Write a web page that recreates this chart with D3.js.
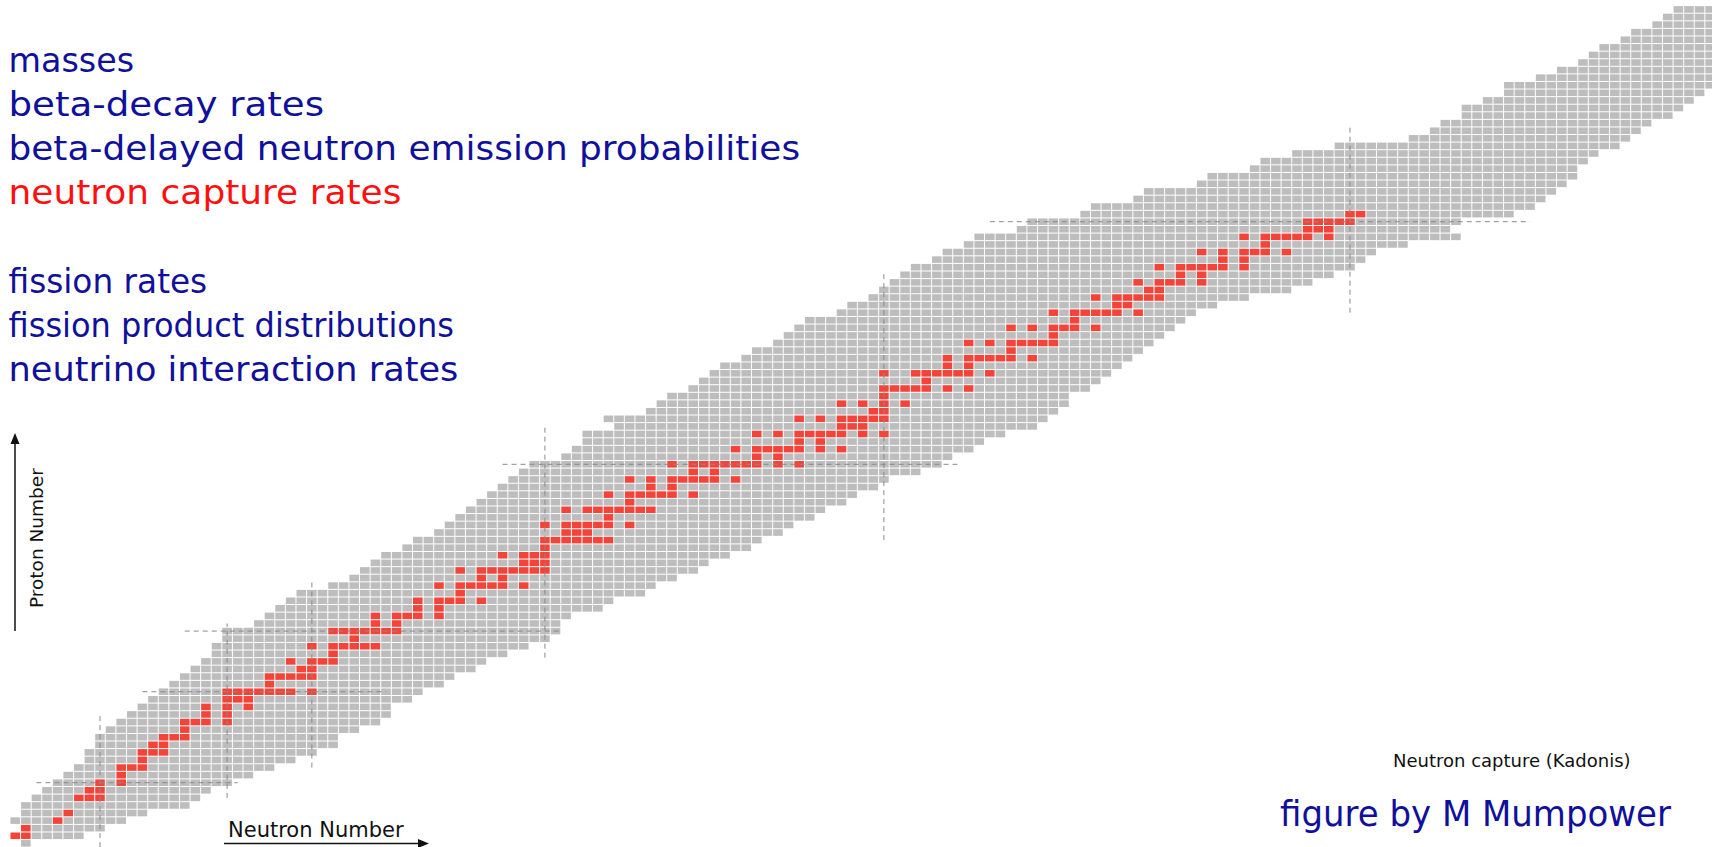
<!DOCTYPE html>
<html>
<head>
<meta charset="utf-8">
<script src="https://cdn.jsdelivr.net/npm/d3@7"></script>
<style>
  html, body { margin: 0; padding: 0; background: #ffffff; overflow: hidden; }
  svg { display: block; }
</style>
</head>
<body>
<svg id="chart" width="1712" height="847"></svg>
<script>
// ---- chart of nuclides: known isotopes per element (neutron number range) ----
const protonNumbers = d3.range(0, 111);
const neutronMin = [
  1, 0, 1, 0, 1, 1, 2, 3, 4, 5,          // Z 0-9
  6, 7, 7, 8, 8, 9, 10, 11, 12, 13,      // Z 10-19
  14, 15, 16, 17, 18, 19, 19, 20, 20, 23, // Z 20-29
  24, 25, 26, 27, 30, 32, 33, 34, 35, 37, // Z 30-39
  38, 40, 41, 42, 43, 44, 45, 46, 47, 48, // Z 40-49
  49, 52, 53, 54, 54, 57, 56, 60, 61, 62, // Z 50-59
  64, 65, 66, 67, 69, 70, 72, 73, 74, 75, // Z 60-69
  78, 79, 81, 82, 83, 84, 85, 87, 88, 90, // Z 70-79
  91, 95, 96, 101, 102, 106, 107, 112, 113, 117, // Z 80-89
  118, 121, 125, 132, 134, 135, 137, 137, 139, 141, // Z 90-99
  141, 144, 146, 148, 149, 150, 152, 153, 155, 156, // Z 100-109
  157                                     // Z 110
];
const neutronMax = [
  1, 6, 8, 10, 12, 16, 17, 18, 20, 22,
  24, 26, 28, 30, 30, 32, 34, 35, 35, 37,
  38, 40, 41, 43, 44, 46, 48, 50, 51, 51,
  52, 55, 56, 59, 60, 62, 64, 65, 67, 69,
  70, 72, 73, 75, 76, 78, 79, 81, 82, 85,
  87, 88, 90, 91, 93, 96, 97, 98, 99, 99,
  101, 102, 103, 104, 105, 106, 107, 108, 109, 110,
  111, 113, 116, 120, 122, 124, 126, 127, 128, 131,
  136, 135, 136, 141, 143, 144, 145, 146, 147, 147,
  148, 149, 151, 152, 153, 154, 156, 157, 158, 159,
  161, 161, 161, 161, 161, 161, 161, 161, 161, 161,
  161
];

// ---- neutron capture targets (Kadonis), as [Z, [N, ...]] ----
const captureTargets = [
  [1, [0, 1]], [2, [1]], [3, [4]], [4, [5]],
  [6, [6, 7, 8]], [7, [7, 8]], [8, [8, 10]], [9, [10]],
  [10, [10, 11, 12]], [11, [12]], [12, [12, 13, 14]], [13, [13, 14]],
  [14, [14, 15, 16]], [15, [16]], [16, [16, 17, 18, 20]], [17, [18, 20]],
  [18, [18, 20, 22]], [19, [20, 21, 22]], [20, [20, 21, 22, 23, 24, 25, 26, 28]],
  [21, [24]], [22, [24, 25, 26, 27, 28]], [23, [27, 28]], [24, [26, 28, 29, 30]],
  [25, [30]], [26, [28, 30, 31, 32, 33, 34]], [27, [32]],
  [28, [30, 31, 32, 33, 34, 35, 36]], [29, [34, 36]], [30, [34, 36, 37, 38, 40]],
  [31, [38, 40]], [32, [38, 40, 41, 42, 44]], [33, [42]],
  [34, [40, 42, 43, 44, 45, 46, 48]], [35, [44, 46]],
  [36, [42, 44, 45, 46, 47, 48, 49, 50]], [37, [48, 49, 50]], [38, [46, 48, 49, 50]],
  [39, [50]], [40, [50, 51, 52, 53, 54, 55, 56]], [41, [52, 53, 54]],
  [42, [50, 52, 53, 54, 55, 56, 58]], [43, [56]],
  [44, [52, 54, 55, 56, 57, 58, 59, 60]], [45, [58]],
  [46, [56, 58, 59, 60, 61, 62, 64]], [47, [60, 62]],
  [48, [58, 60, 62, 63, 64, 65, 66, 68]], [49, [64, 66]],
  [50, [62, 64, 65, 66, 67, 68, 69, 70, 72, 74]], [51, [70, 72]],
  [52, [68, 70, 71, 72, 73, 74, 76, 78]], [53, [74, 76]],
  [54, [70, 72, 74, 75, 76, 77, 78, 80, 82]], [55, [78, 79, 80]],
  [56, [74, 76, 78, 79, 80, 81, 82]], [57, [81, 82]], [58, [78, 80, 82, 84]],
  [59, [82]], [60, [82, 83, 84, 85, 86, 88, 90]], [61, [86]],
  [62, [82, 85, 86, 87, 88, 89, 90, 92]], [63, [88, 90]],
  [64, [88, 90, 91, 92, 93, 94, 96]], [65, [94]],
  [66, [90, 92, 94, 95, 96, 97, 98]], [67, [98]],
  [68, [94, 96, 98, 99, 100, 102]], [69, [100]],
  [70, [98, 100, 101, 102, 103, 104, 106]], [71, [104, 105]],
  [72, [102, 104, 105, 106, 107, 108]], [73, [107, 108]],
  [74, [106, 108, 109, 110, 112]], [75, [110, 112]],
  [76, [108, 110, 111, 112, 113, 114, 116]], [77, [114, 116]],
  [78, [112, 114, 116, 117, 118, 120]], [79, [118]],
  [80, [116, 118, 119, 120, 121, 122, 124]], [81, [122, 123, 124]],
  [82, [122, 123, 124, 125, 126]], [83, [126, 127]]
];

// ---- magic numbers and the extent of their guide lines ----
const magicNeutrons = [8, 20, 28, 50, 82, 126];
const magicNeutronSpan = [[-0.5, 17], [6, 29], [10, 34.5], [24.5, 55], [40, 75.5], [70, 94.6]];
const magicProtons = [8, 20, 28, 50, 82];
const magicProtonSpan = [[2, 21], [12, 35], [16, 51.5], [46, 89.3], [92, 143]];

// ---- quantities listed beside the chart ----
const inputLabels = [
  "masses",
  "beta-decay rates",
  "beta-delayed neutron emission probabilities",
  "neutron capture rates",
  "",
  "fission rates",
  "fission product distributions",
  "neutrino interaction rates"
];
const highlightedLabel = "neutron capture rates";

// ---- layout ----
const svg = d3.select("#chart");

const x = d3.scaleLinear().domain([0, 160]).range([15.26, 15.26 + 160 * 10.593]);
const y = d3.scaleLinear().domain([0, 110]).range([843.35, 843.35 - 110 * 7.581]);
const cellW = x(1) - x(0);
const cellH = y(0) - y(1);

const grey = "#bdbdbd";
const red = "#f4443a";

// known nuclides
const cells = [];
protonNumbers.forEach((z, i) => {
  for (let n = neutronMin[i]; n <= neutronMax[i]; n++) cells.push({ z, n });
});
const captureSet = new Set();
captureTargets.forEach(([z, ns]) => ns.forEach(n => captureSet.add(z + ":" + n)));

svg.append("g")
  .selectAll("rect")
  .data(cells)
  .join("rect")
  .attr("x", d => x(d.n) - cellW / 2 + 0.5)
  .attr("y", d => y(d.z) - cellH / 2 + 0.5)
  .attr("width", cellW - 1)
  .attr("height", cellH - 1)
  .attr("fill", d => captureSet.has(d.z + ":" + d.n) ? red : grey);

// magic-number guide lines
const guides = svg.append("g")
  .attr("stroke", "#8a8a8a")
  .attr("stroke-width", 1)
  .attr("stroke-dasharray", "5,4")
  .attr("fill", "none");

guides.selectAll("line.vn")
  .data(magicNeutrons)
  .join("line")
  .attr("class", "vn")
  .attr("x1", d => x(d)).attr("x2", d => x(d))
  .attr("y1", (d, i) => y(magicNeutronSpan[i][0]))
  .attr("y2", (d, i) => y(magicNeutronSpan[i][1]));

guides.selectAll("line.hz")
  .data(magicProtons)
  .join("line")
  .attr("class", "hz")
  .attr("y1", d => y(d)).attr("y2", d => y(d))
  .attr("x1", (d, i) => x(magicProtonSpan[i][0]))
  .attr("x2", (d, i) => x(magicProtonSpan[i][1]));

// axis arrows
const axisG = svg.append("g").attr("fill", "#111").attr("stroke", "#111");
axisG.append("line")
  .attr("x1", 224).attr("y1", 843.5).attr("x2", 420).attr("y2", 843.5)
  .attr("stroke-width", 1.5);
axisG.append("path")
  .attr("d", "M429,843.5 L418,839 L418,848 Z").attr("stroke", "none");
axisG.append("line")
  .attr("x1", 15).attr("y1", 631).attr("x2", 15).attr("y2", 443)
  .attr("stroke-width", 1.5);
axisG.append("path")
  .attr("d", "M15,433 L10.5,444 L19.5,444 Z").attr("stroke", "none");

svg.append("text")
  .attr("x", 228).attr("y", 837)
  .attr("font-family", "DejaVu Sans")
  .attr("font-size", 21)
  .attr("fill", "#111")
  .text("Neutron Number");

svg.append("text")
  .attr("transform", "translate(42.5,608) rotate(-90)")
  .attr("font-family", "DejaVu Sans")
  .attr("font-size", 18.5)
  .attr("fill", "#111")
  .text("Proton Number");

svg.append("text")
  .attr("x", 1393).attr("y", 767)
  .attr("font-family", "DejaVu Sans")
  .attr("font-size", 18)
  .attr("fill", "#111")
  .text("Neutron capture (Kadonis)");

// list of nuclear inputs
const listWidths = [125.6, 315.6, 791.6, 393, 0, 198.7, 445.5, 449.9];
svg.append("g")
  .selectAll("text")
  .data(inputLabels)
  .join("text")
  .attr("x", 8.5)
  .attr("y", (d, i) => 72 + i * 44.1)
  .attr("font-family", "DejaVu Sans")
  .attr("font-size", 34)
  .attr("fill", d => d === highlightedLabel ? "#ff1010" : "#10109a")
  .attr("textLength", (d, i) => listWidths[i] || null)
  .attr("lengthAdjust", "spacingAndGlyphs")
  .text(d => d);

svg.append("text")
  .attr("x", 1280).attr("y", 826)
  .attr("font-family", "DejaVu Sans")
  .attr("font-size", 35)
  .attr("fill", "#10109a")
  .attr("textLength", 391)
  .attr("lengthAdjust", "spacingAndGlyphs")
  .text("figure by M Mumpower");
</script>
</body>
</html>
